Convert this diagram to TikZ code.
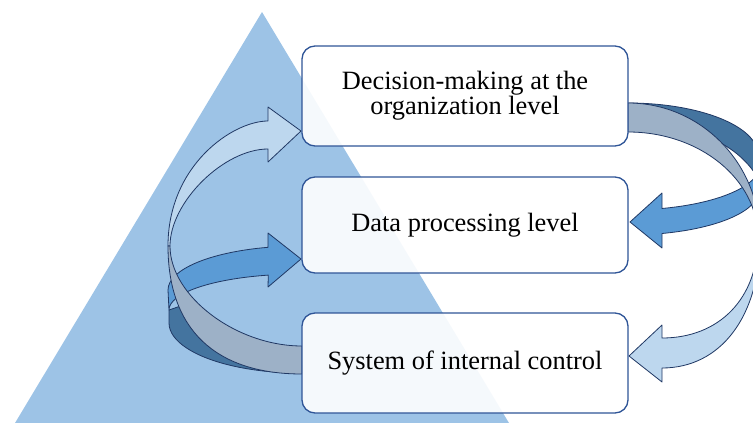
\documentclass[tikz,border=0pt]{standalone}
\usepackage{fontspec}
\setmainfont{Liberation Serif}
\definecolor{triBlue}{HTML}{9DC3E6}
\definecolor{bandLightC}{HTML}{BDD7EE}
\definecolor{bandMidC}{HTML}{5B9BD5}
\definecolor{bandDarkC}{HTML}{44749F}
\definecolor{bandGreyC}{HTML}{9DB1C7}
\definecolor{edgeC}{HTML}{203864}
\definecolor{boxEdgeC}{HTML}{2F5597}
\tikzset{
    levelBox/.style={draw=boxEdgeC, line width=1.3pt, fill=white, fill opacity=0.9, text opacity=1, rounded corners=13pt, minimum width=326pt, minimum height=100pt, inner sep=0pt, align=center, font=\fontsize{26.4}{23}\selectfont},
    bandLight/.style={fill=bandLightC, draw=edgeC, line width=0.8pt, line join=round},
    bandMid/.style={fill=bandMidC, draw=edgeC, line width=0.8pt, line join=round},
    bandDark/.style={fill=bandDarkC, draw=edgeC, line width=0.8pt, line join=round},
    bandGrey/.style={fill=bandGreyC, draw=edgeC, line width=0.8pt, line join=round},
}
% 向右的箭头头部 (#1 = 后端 x, #2 = 上角, #3 = 尖, #4 = 下角)
\newcommand{\headR}[4]{-- (#1,#2) -- (#3) -- (#1,#4)}
\newcommand{\drawBand}[2][bandLight]{
    \filldraw[#1] #2 -- cycle;
}
\begin{document}
\begin{tikzpicture}[x=1pt, y=-1pt]

    \useasboundingbox (0,0) rectangle (753,423);
    \clip (0,0) rectangle (753,423);

    % 背景三角形
    \fill[triBlue] (262,12) -- (509,423) -- (15,423) -- cycle;

    % 左侧: 深色背面 + 中蓝箭头 (到中间)
    \drawBand[bandDark]{(169,323) arc[start angle=180, end angle=89, x radius=131, y radius=50] -- (302,361) arc[start angle=89, end angle=150, x radius=131, y radius=114] -- (169,310)}
    \drawBand[bandMid]{(168,290) arc[start angle=180, end angle=256, x radius=132, y radius=44] \headR{268}{233}{301,259}{287} -- (268.3,275.1) arc[start angle=256, end angle=180, x radius=131, y radius=36]}

    % 左侧: 浅蓝箭头 (到顶部) + 灰色带 (来自底部)
    \drawBand[bandLight]{(168,246) .. controls (168,165) and (233,121) .. (268,121) \headR{268}{107}{301,131}{162} -- (268,149) .. controls (224,149) and (170,202) .. (170,246)}
    \drawBand[bandGrey]{(168,246) .. controls (168,329) and (215,374) .. (302,374) -- (302,346) .. controls (236,346) and (170,296) .. (170,246)}

    % 右侧: 深色背面 + 中蓝箭头 (到中间)
    \drawBand[bandDark]{(628,103) arc[start angle=270, end angle=360, x radius=130, y radius=52] -- (758,178) .. controls (735,140) and (690,125) .. (628,122)}
    \drawBand[bandMid]{(760,165) arc[start angle=0, end angle=75, x radius=132, y radius=45] -- (662,208.5) -- (662,193) -- (630,222) -- (662,248) -- (662,233.5) arc[start angle=75, end angle=0, x radius=131, y radius=45]}

    % 右侧: 灰色带 (来自顶部) + 浅蓝箭头 (到底部)
    \drawBand[bandGrey]{(628,103) .. controls (701,103) and (760,163.5) .. (760,238) -- (758,238) .. controls (758,179.5) and (700,132) .. (628,132)}
    \drawBand[bandLight]{(760,238) .. controls (760,316) and (721,368) .. (662,368) -- (662,382) -- (629,356) -- (662,325) -- (662,338) .. controls (719.6,338) and (758,298) .. (758,238)}

    % 三个层次
    \node[levelBox] (decision) at (465,96) {Decision-making at the\\organization level};
    \node[levelBox, minimum height=96pt] (data) at (465,225) {Data processing level};
    \node[levelBox] (control) at (465,363) {System of internal control};

\end{tikzpicture}
\end{document}
